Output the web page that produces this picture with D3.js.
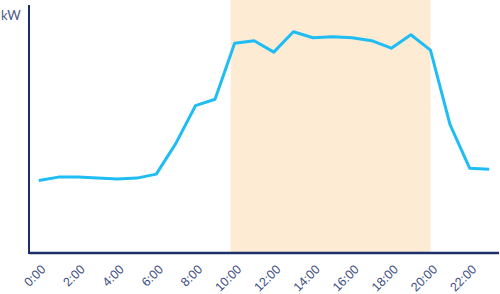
<!DOCTYPE html>
<html>
<head>
<meta charset="utf-8">
<script src="https://cdn.jsdelivr.net/npm/d3@7"></script>
<style>
  body { margin: 0; background: #fff; }
  svg { display: block; font-family: Lato, "Open Sans", sans-serif; }
</style>
</head>
<body>
<div id="chart"></div>
<script>
// hourly load, kW
const hours = d3.range(0, 24);
const load = [14.6, 15.3, 15.3, 15.1, 14.9, 15.1, 15.9, 22.1, 29.7, 31.0,
              42.3, 42.8, 40.5, 44.6, 43.4, 43.6, 43.4, 42.8, 41.3, 44.0,
              40.9, 25.9, 17.1, 16.9];
const tickHours = [0, 2, 4, 6, 8, 10, 12, 14, 16, 18, 20, 22];
const shade = [9.8, 20];   // highlighted daytime band

const width = 500, height = 294;
const plotLeft = 29, plotRight = 499, plotTop = 0, plotBottom = 253;

const svg = d3.select('#chart').append('svg')
  .attr('width', width)
  .attr('height', height);

const x = d3.scaleLinear().domain([-0.5, 23.5]).range([plotLeft, plotRight]);
const y = d3.scaleLinear().domain([0, 50]).range([plotBottom, 5]);

// shaded band
svg.append('rect')
  .attr('x', x(shade[0]))
  .attr('y', plotTop)
  .attr('width', x(shade[1]) - x(shade[0]))
  .attr('height', plotBottom - plotTop)
  .attr('fill', '#fdebd4');

// load line
const line = d3.line().x((d, i) => x(hours[i])).y(d => y(d));
svg.append('path')
  .datum(load)
  .attr('d', line)
  .attr('fill', 'none')
  .attr('stroke', '#1fbdf4')
  .attr('stroke-width', 3)
  .attr('stroke-linejoin', 'round');

// x axis
const xAxis = svg.append('g')
  .attr('transform', 'translate(0,' + plotBottom + ')')
  .call(d3.axisBottom(x).tickValues(tickHours).tickSize(0).tickFormat(d => d + ':00'));
xAxis.select('.domain').attr('stroke', '#1d2f6a').attr('stroke-width', 2.5)
  .attr('d', 'M' + plotLeft + ',0H' + plotRight);
xAxis.selectAll('text')
  .attr('fill', '#3e4f7f')
  .attr('font-size', 12.5)
  .attr('text-anchor', 'end')
  .attr('dy', 0)
  .attr('transform', 'translate(5,15) rotate(-45)');

// y axis line
svg.append('line')
  .attr('x1', plotLeft).attr('x2', plotLeft)
  .attr('y1', 5).attr('y2', plotBottom + 1)
  .attr('stroke', '#1d2f6a')
  .attr('stroke-width', 2);

svg.append('text')
  .attr('x', 1).attr('y', 20)
  .attr('fill', '#4a5a84')
  .attr('font-size', 13)
  .text('kW');
</script>
</body>
</html>
